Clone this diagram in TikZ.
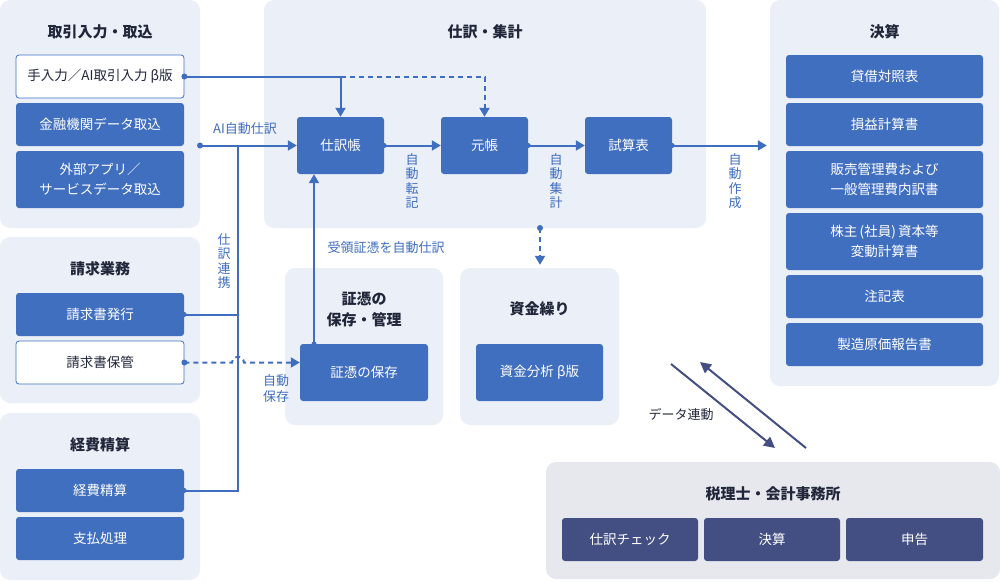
\documentclass[tikz,border=0pt]{standalone}
\usepackage{fontspec}
\setmainfont{Noto Sans CJK JP}
\usetikzlibrary{arrows.meta,calc}

\definecolor{panelbg}{HTML}{EBF0F8}
\definecolor{taxbg}{HTML}{E7E8EE}
\definecolor{boxblue}{HTML}{416FC0}
\definecolor{navy}{HTML}{434E82}
\definecolor{ink}{HTML}{22263A}
\definecolor{linkblue}{HTML}{3F6DBF}

\pgfdeclarelayer{back}
\pgfdeclarelayer{mid}
\pgfsetlayers{back,mid,main}

\begin{document}
\begin{tikzpicture}[x=1pt, y=-1pt,
    panel/.style={fill=panelbg, rounded corners=10pt, inner sep=0pt},
    title/.style={text=ink, font=\fontsize{15}{21}\selectfont\bfseries, align=center},
    box/.style={fill=boxblue, text=white, rounded corners=3pt, inner sep=0pt,
      minimum width=168pt, minimum height=43pt, align=center,
      font=\fontsize{13.5}{20}\selectfont},
    wbox/.style={box, fill=white, draw=boxblue, line width=0.8pt, text=ink},
    fsbox/.style={box, minimum width=197pt},
    taxbox/.style={box, fill=navy, minimum width=136pt},
    flowbox/.style={box, minimum width=87pt, minimum height=57pt},
    lbl/.style={text=linkblue, inner sep=0pt, align=center,
      font=\fontsize{13}{14.5}\selectfont},
    link/.style={draw=linkblue, line width=2pt},
    flow/.style={link, -{Triangle[length=9pt,width=10pt]}},
    dashline/.style={dash pattern=on 5pt off 4pt},
    sync/.style={draw=navy, line width=2pt, -{Triangle[length=11pt,width=11pt]}}]
  \useasboundingbox (0,0) rectangle (1000,581);

  \begin{pgfonlayer}{back}
    \node[panel, minimum width=200pt, minimum height=228pt] (pIn) at (100,114) {};
    \node[panel, minimum width=200pt, minimum height=166pt] (pBill) at (100,320) {};
    \node[panel, minimum width=200pt, minimum height=167pt] (pExp) at (100,496.5) {};
    \node[panel, minimum width=442pt, minimum height=228pt] (pJnl) at (485,114) {};
    \node[panel, minimum width=158pt, minimum height=157pt] (pVouch) at (364,346.5) {};
    \node[panel, minimum width=159pt, minimum height=157pt] (pCash) at (539.5,346.5) {};
    \node[panel, minimum width=229pt, minimum height=386pt] (pFs) at (884.5,193) {};
    \node[panel, fill=taxbg, minimum width=454pt, minimum height=117pt] (pTax) at (773,520.5) {};
  \end{pgfonlayer}

  \node[title] (tIn) at (100,32) {取引入力・取込};
  \node[title] (tBill) at (100,269) {請求業務};
  \node[title] (tExp) at (100,445) {経費精算};
  \node[title] (tJnl) at (485,32) {仕訳・集計};
  \node[title] (tVouch) at (364,309) {証憑の\\保存・管理};
  \node[title] (tCash) at (539.5,309) {資金繰り};
  \node[title] (tFs) at (884.5,32) {決算};
  \node[title] (tTax) at (773,494) {税理士・会計事務所};

  \node[wbox] (in1) at (100,76.5) {手入力／AI取引入力 β版};
  \node[box] (in2) at (100,124.5) {金融機関データ取込};
  \node[box, minimum height=57pt] (in3) at (100,179.5) {外部アプリ／\\サービスデータ取込};
  \node[box] (bill1) at (100,314.5) {請求書発行};
  \node[wbox] (bill2) at (100,362.5) {請求書保管};
  \node[box] (exp1) at (100,490.5) {経費精算};
  \node[box] (exp2) at (100,538.5) {支払処理};

  \node[flowbox] (jnl) at (340.5,145.5) {仕訳帳};
  \node[flowbox] (ledger) at (484.5,145.5) {元帳};
  \node[flowbox] (trial) at (628.5,145.5) {試算表};
  \node[box, minimum width=128pt, minimum height=57pt] (vouch) at (364,372.5) {証憑の保存};
  \node[box, minimum width=127pt, minimum height=57pt] (cash) at (539.5,372.5) {資金分析 β版};

  \node[fsbox] (fs1) at (884.5,76.5) {貸借対照表};
  \node[fsbox] (fs2) at (884.5,124.5) {損益計算書};
  \node[fsbox, minimum height=57pt] (fs3) at (884.5,179.5) {販売管理費および\\一般管理費内訳書};
  \node[fsbox, minimum height=57pt] (fs4) at (884.5,241.5) {株主\,(社員)\,資本等\\変動計算書};
  \node[fsbox] (fs5) at (884.5,296.5) {注記表};
  \node[fsbox] (fs6) at (884.5,344.5) {製造原価報告書};

  \node[taxbox] (tax1) at (630,539.5) {仕訳チェック};
  \node[taxbox] (tax2) at (772,539.5) {決算};
  \node[taxbox, minimum width=137pt] (tax3) at (914.5,539.5) {申告};

  \coordinate (aiIn) at (200,145.5);
  \coordinate (busTop) at (238,145.5);
  \coordinate (vUp) at (314,344);
  \coordinate (cashIn) at (540,228);
  \coordinate (syncA) at (671,364);
  \coordinate (syncB) at (775,448);
  \coordinate (syncC) at (806,448);
  \coordinate (syncD) at (700,362);

  \begin{pgfonlayer}{mid}
    \draw[flow] (in1.east) -| (jnl.north);
    \draw[flow, dashline] (jnl.north |- in1.east) -| (ledger.north);
    \draw[flow] (aiIn) -- (jnl.west);
    \draw[link] (exp1.east) -| (busTop);
    \draw[link] (bill1.east) -- (bill1.east -| busTop);
    \draw[flow, dashline] (bill2.east) -- ($(bill2.east -| busTop)+(-6,0)$)
      .. controls +(1,-8) and +(-1,-8) .. ++(12,0) -- (vouch.west |- bill2.east);
    \draw[flow] (vUp) -- (vUp |- jnl.south);
    \draw[flow] (jnl.east) -- (ledger.west);
    \draw[flow] (ledger.east) -- (trial.west);
    \draw[flow, shorten >=3pt] (trial.east) -- (pFs.west |- trial.east);
    \draw[flow, dashline, shorten >=3pt] (cashIn) -- (pCash.north -| cashIn);
    \foreach \p in {bill1.east, exp1.east, vUp, jnl.east, ledger.east, trial.east}
      \fill[linkblue] (\p) circle[radius=2.5pt];
  \end{pgfonlayer}
  \foreach \p in {in1.east, bill2.east, aiIn, cashIn}
    \fill[linkblue] (\p) circle[radius=3pt];

  \draw[sync] (syncA) -- (syncB);
  \draw[sync] (syncC) -- (syncD);

  \node[lbl] (lAi) at (245,129) {AI自動仕訳};
  \node[lbl] (lBus) at (224,261) {仕\\訳\\連\\携};
  \node[lbl, font=\fontsize{13}{16}\selectfont] (lSave) at (276,389) {自動\\保存};
  \node[lbl] (lVouch) at (386,248) {受領証憑を自動仕訳};
  \node[lbl] (lPost) at (412,181) {自\\動\\転\\記};
  \node[lbl] (lSum) at (556,181) {自\\動\\集\\計};
  \node[lbl] (lMake) at (735,181) {自\\動\\作\\成};
  \node[lbl, text=ink] (lSync) at (681,415) {データ連動};
\end{tikzpicture}
\end{document}
